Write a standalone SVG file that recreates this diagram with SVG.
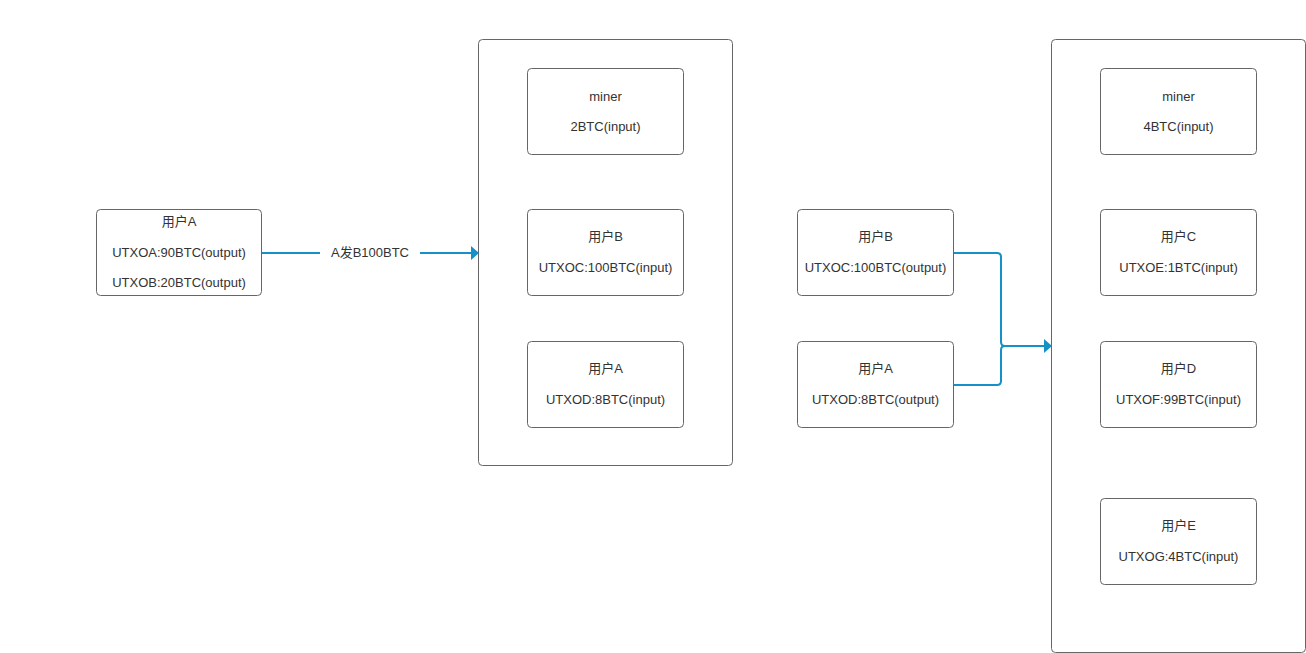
<svg xmlns="http://www.w3.org/2000/svg" width="1306" height="653" viewBox="0 0 1306 653">
<style>
.box{fill:#fff;stroke:#666;stroke-width:1}
.t{font-family:"Liberation Sans","Noto Sans CJK SC",Arial,sans-serif;font-size:13px;fill:#333;text-anchor:middle;dominant-baseline:central}
.e{fill:none;stroke:#1591c8;stroke-width:2}
</style>
<defs>
<marker id="arr" viewBox="0 0 8 14" refX="7" refY="7" markerWidth="8" markerHeight="14" markerUnits="userSpaceOnUse" orient="auto">
<path d="M0,0 L8,7 L0,14 Z" fill="#1591c8"/>
</marker>
</defs>
<rect width="1306" height="653" fill="#fff"/>
<g id="block1"><rect class="box" x="478.5" y="39.5" width="254" height="426" rx="4"/></g>
<g id="block2"><rect class="box" x="1051.5" y="39.5" width="254" height="613" rx="4"/></g>
<g id="connectors">
<path class="e" d="M262,253 H320"/>
<path class="e" d="M420,253 H478" marker-end="url(#arr)"/>
<text class="t" x="370" y="252">A发B100BTC</text>
<path class="e" d="M954,253 H997 Q1001,253 1001,257 V342 Q1001,346 1005,346 H1051" marker-end="url(#arr)"/>
<path class="e" d="M954,385 H997 Q1001,385 1001,381 V350 Q1001,346 1005,346"/>
</g>
<g id="userA0"><rect class="box" x="96.5" y="209.5" width="165" height="86" rx="4"/>
<text class="t" x="179" y="221">用户A</text><text class="t" x="179" y="252">UTXOA:90BTC(output)</text><text class="t" x="179" y="282">UTXOB:20BTC(output)</text></g>
<g id="miner1"><rect class="box" x="527.5" y="68.5" width="156" height="86" rx="4"/>
<text class="t" x="605.5" y="96">miner</text><text class="t" x="605.5" y="126">2BTC(input)</text></g>
<g id="userB1"><rect class="box" x="527.5" y="209.5" width="156" height="86" rx="4"/>
<text class="t" x="605.5" y="236">用户B</text><text class="t" x="605.5" y="267">UTXOC:100BTC(input)</text></g>
<g id="userA1"><rect class="box" x="527.5" y="341.5" width="156" height="86" rx="4"/>
<text class="t" x="605.5" y="368">用户A</text><text class="t" x="605.5" y="399">UTXOD:8BTC(input)</text></g>
<g id="userB2"><rect class="box" x="797.5" y="209.5" width="156" height="86" rx="4"/>
<text class="t" x="875.5" y="236">用户B</text><text class="t" x="875.5" y="267">UTXOC:100BTC(output)</text></g>
<g id="userA2"><rect class="box" x="797.5" y="341.5" width="156" height="86" rx="4"/>
<text class="t" x="875.5" y="368">用户A</text><text class="t" x="875.5" y="399">UTXOD:8BTC(output)</text></g>
<g id="miner2"><rect class="box" x="1100.5" y="68.5" width="156" height="86" rx="4"/>
<text class="t" x="1178.5" y="96">miner</text><text class="t" x="1178.5" y="126">4BTC(input)</text></g>
<g id="userC"><rect class="box" x="1100.5" y="209.5" width="156" height="86" rx="4"/>
<text class="t" x="1178.5" y="236">用户C</text><text class="t" x="1178.5" y="267">UTXOE:1BTC(input)</text></g>
<g id="userD"><rect class="box" x="1100.5" y="341.5" width="156" height="86" rx="4"/>
<text class="t" x="1178.5" y="368">用户D</text><text class="t" x="1178.5" y="399">UTXOF:99BTC(input)</text></g>
<g id="userE"><rect class="box" x="1100.5" y="498.5" width="156" height="86" rx="4"/>
<text class="t" x="1178.5" y="525">用户E</text><text class="t" x="1178.5" y="556">UTXOG:4BTC(input)</text></g>
</svg>
